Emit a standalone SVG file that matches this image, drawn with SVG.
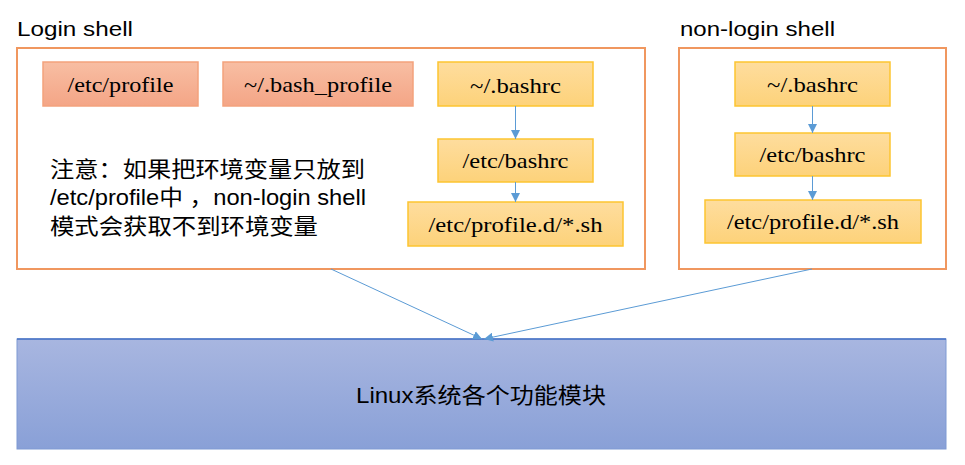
<svg xmlns="http://www.w3.org/2000/svg" width="965" height="465" viewBox="0 0 965 465">
<defs>
<linearGradient id="gSalmon" x1="0" y1="0" x2="0" y2="1"><stop offset="0" stop-color="#f8bea3"/><stop offset="1" stop-color="#f4a586"/></linearGradient>
<linearGradient id="gGold" x1="0" y1="0" x2="0" y2="1"><stop offset="0" stop-color="#fedd9e"/><stop offset="1" stop-color="#fdd27a"/></linearGradient>
<linearGradient id="gBlue" x1="0" y1="0" x2="0" y2="1"><stop offset="0" stop-color="#a8b6e0"/><stop offset="1" stop-color="#89a0d7"/></linearGradient>
<marker id="arr" viewBox="0 0 10 10" refX="10" refY="5" markerWidth="9" markerHeight="9" markerUnits="userSpaceOnUse" orient="auto"><path d="M0,0 L10,5 L0,10 z" fill="#5b9bd5"/></marker>
</defs>
<style>
.frame{fill:#fff;stroke:#f0975f;stroke-width:2}
.salmon{fill:url(#gSalmon);stroke:#f3a27c;stroke-width:1.5}
.gold{fill:url(#gGold);stroke:#fdc530;stroke-width:1.5}
.base{fill:url(#gBlue);stroke:#7f9ad3;stroke-width:1}
.lbl{font-family:'Liberation Serif','DejaVu Serif','Times New Roman',serif;font-size:22px;fill:#000;text-anchor:middle}
.sans{font-family:'Liberation Sans',Arial,sans-serif;font-size:21px;fill:#000}
.cjk{font-family:'Liberation Sans',Arial,'Noto Sans CJK SC',sans-serif;font-size:22px;fill:#000}
.conn{stroke:#5b9bd5;stroke-width:1;fill:none}
</style>
<text class="sans" x="17" y="36" textLength="116" lengthAdjust="spacingAndGlyphs">Login shell</text>
<text class="sans" x="680" y="36" textLength="155" lengthAdjust="spacingAndGlyphs">non-login shell</text>
<g id="login-shell"><rect class="frame" x="17" y="48" width="628" height="221"/></g>
<g id="non-login-shell"><rect class="frame" x="679" y="48" width="267" height="221"/></g>
<g id="note">
<text class="cjk" x="50" y="177" textLength="315" lengthAdjust="spacingAndGlyphs">注意：如果把环境变量只放到</text>
<text class="cjk" x="50" y="205" textLength="316" lengthAdjust="spacingAndGlyphs">/etc/profile中 ，non-login shell</text>
<text class="cjk" x="50" y="234" textLength="268" lengthAdjust="spacingAndGlyphs">模式会获取不到环境变量</text>
</g>
<g id="etc-profile"><rect class="salmon" x="43" y="62" width="155" height="44"/><text class="lbl" font-family="Liberation Serif, serif" x="120.5" y="92" textLength="106" lengthAdjust="spacingAndGlyphs">/etc/profile</text></g>
<g id="bash-profile"><rect class="salmon" x="223" y="62" width="190" height="44"/><text class="lbl" font-family="Liberation Serif, serif" x="318" y="92" textLength="148" lengthAdjust="spacingAndGlyphs">~/.bash_profile</text></g>
<g id="bashrc-l"><rect class="gold" x="438" y="62" width="155" height="44"/><text class="lbl" font-family="Liberation Serif, serif" x="515.5" y="93" textLength="91" lengthAdjust="spacingAndGlyphs">~/.bashrc</text></g>
<g id="etc-bashrc-l"><rect class="gold" x="438" y="139" width="155" height="43"/><text class="lbl" font-family="Liberation Serif, serif" x="515.5" y="168" textLength="106" lengthAdjust="spacingAndGlyphs">/etc/bashrc</text></g>
<g id="profiled-l"><rect class="gold" x="408" y="202" width="215" height="44"/><text class="lbl" font-family="Liberation Serif, serif" x="515.5" y="232" textLength="174" lengthAdjust="spacingAndGlyphs">/etc/profile.d/*.sh</text></g>
<g id="bashrc-r"><rect class="gold" x="735" y="62" width="155" height="44"/><text class="lbl" font-family="Liberation Serif, serif" x="812.5" y="92" textLength="91" lengthAdjust="spacingAndGlyphs">~/.bashrc</text></g>
<g id="etc-bashrc-r"><rect class="gold" x="735" y="133" width="155" height="43"/><text class="lbl" font-family="Liberation Serif, serif" x="812.5" y="162" textLength="106" lengthAdjust="spacingAndGlyphs">/etc/bashrc</text></g>
<g id="profiled-r"><rect class="gold" x="705" y="200" width="216" height="43"/><text class="lbl" font-family="Liberation Serif, serif" x="813" y="229" textLength="172" lengthAdjust="spacingAndGlyphs">/etc/profile.d/*.sh</text></g>
<g id="linux"><rect class="base" x="17" y="339" width="929" height="110"/><line x1="17" y1="339" x2="946" y2="339" stroke="#4472c4" stroke-width="1.5"/><text class="cjk" x="356" y="403" textLength="250" lengthAdjust="spacingAndGlyphs">Linux系统各个功能模块</text></g>
<g id="connectors">
<line class="conn" x1="515.5" y1="106" x2="515.5" y2="139" marker-end="url(#arr)"/>
<line class="conn" x1="515.5" y1="182" x2="515.5" y2="202" marker-end="url(#arr)"/>
<line class="conn" x1="812.5" y1="106" x2="812.5" y2="133" marker-end="url(#arr)"/>
<line class="conn" x1="812.5" y1="176" x2="812.5" y2="200" marker-end="url(#arr)"/>
<line class="conn" x1="331" y1="269" x2="482" y2="339" marker-end="url(#arr)"/>
<line class="conn" x1="812" y1="269" x2="484" y2="339" marker-end="url(#arr)"/>
</g>
</svg>
